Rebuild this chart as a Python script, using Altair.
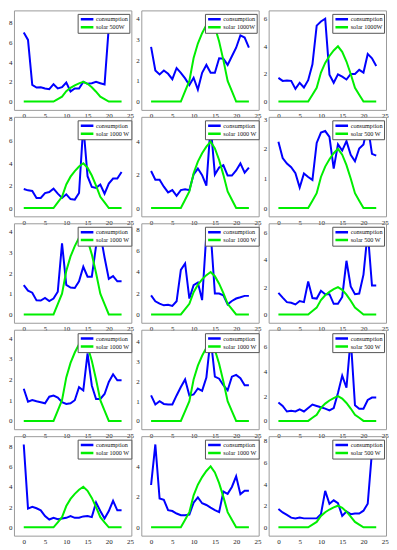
import altair as alt
import pandas as pd

HOURS = list(range(24))

S1000 = [0, 0, 0, 0, 0, 0, 0, 0, 0.5, 1.0, 2.1, 2.8, 3.3, 3.7, 4.0, 3.6, 2.9, 2.0, 1.0, 0.5, 0, 0, 0, 0]
S500 = [0, 0, 0, 0, 0, 0, 0, 0, 0.25, 0.5, 1.05, 1.4, 1.65, 1.85, 2.0, 1.8, 1.45, 1.0, 0.5, 0.25, 0, 0, 0, 0]

C11 = [7.0, 6.25, 1.7, 1.43, 1.46, 1.33, 1.26, 1.76, 1.33, 1.46, 1.93, 1.03, 1.33, 1.33, 2.0, 1.8, 1.86, 2.0, 1.86, 1.73, 7.6, 8.4, 8.2, 7.8]
C12 = [2.64, 1.5, 1.31, 1.5, 1.34, 1.08, 1.62, 1.39, 1.12, 0.8, 1.15, 0.58, 1.39, 1.77, 1.39, 1.39, 2.09, 2.07, 1.77, 2.19, 2.6, 3.19, 3.09, 2.6]
C13 = [1.72, 1.5, 1.53, 1.5, 0.92, 1.36, 1.02, 1.55, 2.7, 5.5, 5.8, 6.0, 1.95, 1.36, 1.97, 1.8, 1.6, 2.0, 2.0, 2.3, 2.1, 3.45, 3.13, 2.57]
C21 = [1.7, 1.58, 1.52, 0.9, 0.9, 1.34, 1.43, 1.73, 1.28, 0.9, 1.22, 0.8, 0.75, 1.34, 7.4, 2.84, 1.88, 1.8, 2.1, 1.28, 2.18, 2.63, 2.63, 3.22]
C22 = [2.23, 1.71, 1.71, 1.29, 0.94, 1.08, 0.73, 1.08, 1.13, 1.08, 2.02, 2.38, 1.98, 1.35, 5.0, 2.02, 2.44, 2.58, 1.96, 1.96, 2.27, 2.69, 2.13, 2.44]
C23 = [2.24, 1.69, 1.5, 1.38, 1.18, 0.69, 1.17, 1.05, 0.95, 2.2, 2.55, 2.6, 2.4, 1.33, 2.15, 1.94, 2.26, 1.8, 1.58, 2.01, 2.15, 2.8, 1.83, 1.77]
C31 = [1.42, 1.15, 1.05, 0.68, 0.67, 0.8, 0.65, 0.77, 1.1, 3.43, 1.43, 1.3, 1.28, 1.6, 2.3, 1.82, 1.82, 3.3, 3.9, 2.75, 1.72, 1.85, 1.6, 1.6]
C32 = [1.8, 1.24, 1.02, 0.86, 0.92, 0.8, 1.24, 4.2, 4.8, 1.5, 2.76, 3.0, 1.35, 7.6, 7.8, 1.97, 1.97, 1.8, 0.95, 1.27, 1.5, 1.62, 1.75, 1.75]
C33 = [1.58, 1.23, 0.9, 0.85, 0.73, 0.98, 0.9, 2.41, 1.2, 1.16, 1.73, 1.48, 1.48, 0.78, 0.78, 1.28, 3.92, 2.04, 1.48, 1.53, 2.91, 6.05, 2.11, 2.11]
C41 = [1.55, 0.93, 1.01, 0.95, 0.9, 0.85, 1.17, 1.22, 1.13, 0.9, 0.82, 0.85, 1.0, 1.63, 1.47, 3.26, 1.71, 1.06, 1.06, 1.3, 1.88, 2.25, 1.96, 1.96]
C42 = [1.29, 0.83, 1.0, 0.86, 0.83, 0.83, 1.29, 1.72, 2.1, 1.29, 1.34, 1.64, 1.52, 2.2, 4.2, 2.24, 2.14, 1.81, 1.55, 2.24, 2.33, 2.16, 1.81, 1.81]
C43 = [1.49, 1.21, 0.76, 0.82, 0.76, 0.93, 0.76, 1.04, 1.32, 1.21, 1.1, 0.99, 0.85, 1.04, 2.25, 3.66, 2.68, 6.7, 1.27, 0.99, 0.99, 1.69, 1.89, 1.89]
C51 = [8.17, 1.85, 2.02, 1.88, 1.68, 1.11, 0.77, 0.94, 0.81, 0.87, 0.94, 1.11, 0.94, 0.94, 1.08, 1.11, 1.01, 2.45, 1.61, 0.87, 1.61, 2.62, 1.68, 1.68]
C52 = [2.78, 5.44, 1.89, 1.8, 1.13, 1.07, 0.91, 0.8, 0.8, 0.84, 1.62, 1.96, 1.58, 1.47, 1.29, 1.13, 1.0, 2.35, 2.2, 2.65, 3.35, 2.18, 2.4, 2.4]
C53 = [1.7, 1.38, 1.15, 0.9, 0.83, 0.9, 0.83, 0.83, 0.83, 0.83, 1.22, 3.37, 2.18, 2.5, 2.24, 1.06, 1.47, 1.22, 1.28, 1.28, 1.54, 2.18, 7.0, 7.66]

PANELS = [
    (C11, S500, "solar 500W"),
    (C12, S1000, "solar 1000W"),
    (C13, S1000, "solar 1000W"),
    (C21, S1000, "solar 1000 W"),
    (C22, S1000, "solar 1000 W"),
    (C23, S500, "solar 500 W"),
    (C31, S1000, "solar 1000 W"),
    (C32, S1000, "solar 1000 W"),
    (C33, S500, "solar 500 W"),
    (C41, S1000, "solar 1000 W"),
    (C42, S1000, "solar 1000 W"),
    (C43, S500, "solar 500 W"),
    (C51, S1000, "solar 1000 W"),
    (C52, S1000, "solar 1000 W"),
    (C53, S500, "solar 500 W"),
]

X_TICKS = [0, 5, 10, 15, 20, 25]
BLUE = "#0000ff"
GREEN = "#00ee00"
FONT = "Liberation Serif"
W, H = 118, 100


def panel(cons, solar, label):
    m = max(max(cons), max(solar))
    step = 1 if m < 4.5 else 2
    yticks = list(range(0, int(1.1 * m) + 1, step))
    df = pd.DataFrame({
        "hour": HOURS + HOURS,
        "value": cons + solar,
        "series": ["consumption"] * len(cons) + [label] * len(solar),
    })
    return alt.Chart(df).mark_line(strokeWidth=2, strokeJoin="miter").encode(
        x=alt.X("hour:Q",
                scale=alt.Scale(domain=[-2.3, 25.3], nice=False, zero=False),
                axis=alt.Axis(values=X_TICKS, title=None)),
        y=alt.Y("value:Q",
                scale=alt.Scale(domain=[-0.1 * m, 1.1 * m], nice=False, zero=False),
                axis=alt.Axis(values=yticks, title=None)),
        color=alt.Color("series:N",
                        scale=alt.Scale(domain=["consumption", label], range=[BLUE, GREEN]),
                        sort=["consumption", label],
                        legend=alt.Legend(title=None, orient="none",
                                          legendX=W - 54, legendY=3.5)),
    ).properties(width=W, height=H)


charts = [panel(c, s, l) for c, s, l in PANELS]

chart = alt.concat(
    *charts, columns=3, spacing={"row": 7, "column": 10}, bounds="flush"
).resolve_scale(
    color="independent", x="independent", y="independent"
).properties(
    padding={"left": 0, "top": 0, "right": 0, "bottom": 0}
).configure_view(
    stroke="#9a9a9a", strokeWidth=1
).configure_axis(
    domain=False, grid=False, ticks=False,
    labelFont=FONT, labelFontSize=7, labelColor="#222222", labelPadding=2
).configure_legend(
    fillColor="white", strokeColor="#555555", padding=1.5,
    symbolType="stroke", symbolStrokeWidth=2.5, symbolSize=160,
    labelFont=FONT, labelFontSize=6.2, labelColor="#111111", labelOffset=1,
    rowPadding=0, clipHeight=7.8, zindex=1
)

chart.save("out.html", embed_options={"renderer": "svg", "actions": False})
